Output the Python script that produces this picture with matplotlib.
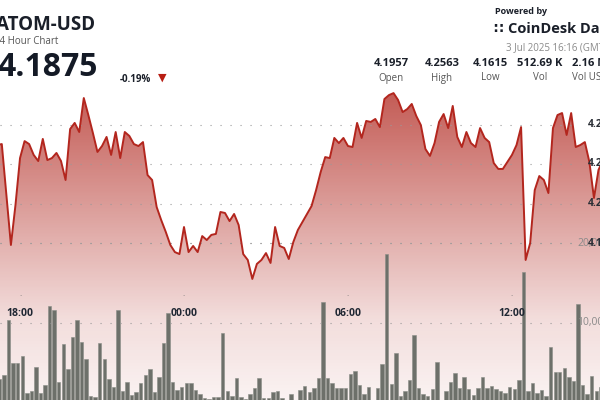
import numpy as np
import pandas as pd
import matplotlib
matplotlib.use("Agg")
import matplotlib.pyplot as plt
import matplotlib.dates as mdates

plt.rcParams['font.family'] = ['Open Sans', 'DejaVu Sans']

# 10-minute candles, ATOM-USD
times = pd.date_range("2025-07-02 17:10", periods=134, freq="10min")
prices = [4.2296, 4.2301, 4.2043, 4.1790, 4.1992, 4.2230, 4.2316, 4.2301, 4.2246, 4.2215,
          4.2327, 4.2220, 4.2230, 4.2256, 4.2215, 4.2119, 4.2377, 4.2408, 4.2362, 4.2534,
          4.2448, 4.2357, 4.2261, 4.2291, 4.2337, 4.2246, 4.2362, 4.2230, 4.2362, 4.2342,
          4.2301, 4.2291, 4.2311, 4.2144, 4.2119, 4.1982, 4.1916, 4.1856, 4.1790, 4.1754,
          4.1744, 4.1881, 4.1754, 4.1785, 4.1754, 4.1835, 4.1815, 4.1841, 4.1846, 4.1957,
          4.1952, 4.1911, 4.1947, 4.1891, 4.1744, 4.1714, 4.1618, 4.1694, 4.1714, 4.1749,
          4.1699, 4.1881, 4.1785, 4.1775, 4.1719, 4.1805, 4.1866, 4.1906, 4.1947, 4.1987,
          4.2068, 4.2159, 4.2235, 4.2230, 4.2332, 4.2306, 4.2332, 4.2291, 4.2286, 4.2408,
          4.2332, 4.2418, 4.2413, 4.2428, 4.2387, 4.2529, 4.2549, 4.2559, 4.2524, 4.2463,
          4.2478, 4.2504, 4.2443, 4.2397, 4.2276, 4.2241, 4.2306, 4.2413, 4.2453, 4.2382,
          4.2494, 4.2337, 4.2286, 4.2362, 4.2306, 4.2286, 4.2382, 4.2332, 4.2311, 4.2205,
          4.2175, 4.2175, 4.2210, 4.2246, 4.2296, 4.2387, 4.1714, 4.1800, 4.2068, 4.2139,
          4.2119, 4.2053, 4.2382, 4.2448, 4.2458, 4.2347, 4.2458, 4.2286, 4.2296, 4.2311,
          4.2210, 4.2028, 4.2170, 4.2220]
volumes = [2000, 3000, 3500, 10375, 5000, 5000, 5875, 1250, 1500, 4500,
           1250, 2250, 12125, 11625, 2625, 7375, 4250, 8250, 10375, 7625,
           5500, 875, 750, 7500, 5500, 3000, 2000, 11625, 1500, 2625,
           1000, 1375, 2500, 3500, 4250, 1375, 3250, 7500, 11250, 2625,
           1625, 2000, 2500, 2500, 1625, 1125, 625, 500, 750, 750,
           8750, 1500, 875, 3125, 750, 500, 1125, 1875, 3125, 625,
           625, 1375, 1500, 625, 375, 1125, 375, 1625, 2125, 1375,
           1875, 3125, 12625, 3125, 2500, 1875, 1875, 1875, 3625, 4000,
           2250, 1125, 2000, 375, 1875, 4875, 18625, 2375, 6250, 875,
           1500, 2875, 8500, 1875, 1125, 875, 1750, 5125, 375, 1500,
           2625, 3750, 1875, 3250, 1750, 1000, 1875, 3250, 1875, 2125,
           1750, 1500, 1250, 2000, 1750, 2875, 16375, 1500, 2500, 1250,
           1625, 875, 7000, 3875, 3875, 4375, 3250, 2750, 12375, 2250,
           1125, 3375, 1500, 2000]

price_ticks = [4.18, 4.20, 4.22, 4.24]
vol_ticks = [10000, 20000]
time_ticks = ["2025-07-02 18:00", "2025-07-03 00:00", "2025-07-03 06:00", "2025-07-03 12:00"]
time_labels = ["18:00", "00:00", "06:00", "12:00"]
stats_values = ["4.1957", "4.2563", "4.1615", "512.69 K", "2.16 M"]
stats_names = ["Open", "High", "Low", "Vol", "Vol USD"]

W, H = 600, 400
fig = plt.figure(figsize=(6, 4), dpi=100)
fig.patch.set_facecolor("white")

x = mdates.date2num(times)
midnight = mdates.date2num(pd.Timestamp("2025-07-03 00:00"))
px_per_day = 27.33 * 24
xlim = (midnight - 184 / px_per_day, midnight + (W - 184) / px_per_day)
plim = (4.18 - 157 / 39.5 * 0.02, 4.18 + 243 / 39.5 * 0.02)
vlim = (375, 403 * 125)

rect = [0, 0, 1, 1]
ax = fig.add_axes(rect, label="fill")
ax_v = fig.add_axes(rect, label="vol")
ax_l = fig.add_axes(rect, label="line")
for a in (ax, ax_v, ax_l):
    a.set_xlim(*xlim)
    a.axis("off")
    a.patch.set_alpha(0)
ax.set_ylim(*plim)
ax_l.set_ylim(*plim)
ax_v.set_ylim(*vlim)

# gradient fill under the price line
poly = ax.fill_between(x, prices, plim[0], facecolor="none", edgecolor="none")
n = 256
ypix = np.linspace(400, 0, n)
alpha = np.interp(ypix, [0, 90, 200, 320, 400], [0.85, 0.78, 0.48, 0.16, 0.06])
img = np.zeros((n, 1, 4))
img[:, 0, 0] = 0.70
img[:, 0, 1] = 0.17
img[:, 0, 2] = 0.14
img[:, 0, 3] = alpha
im = ax.imshow(img, extent=[xlim[0], xlim[1], plim[0], plim[1]], origin="lower",
               aspect="auto", interpolation="bilinear")
im.set_clip_path(poly.get_paths()[0], transform=ax.transData)

# dotted grid
for p in price_ticks:
    ax.plot([xlim[0], xlim[0] + 578 / px_per_day], [p, p], color="#9a9a9a", lw=0.8,
            linestyle=(0, (1, 8)))
for v in vol_ticks:
    ax_v.plot([xlim[0], xlim[0] + 572 / px_per_day], [v, v], color="#9a9a9a", lw=0.8,
              linestyle=(0, (1, 8)))

# volume bars
ax_v.bar(x - 5 / 1440, volumes, width=7.5 / 1440, color="#6d706a", edgecolor="#8a8d87",
         linewidth=0.4)

# price line
ax_l.plot(x, prices, color="#b3261e", lw=1.4)

def px(xp, yp):
    return xp / W, 1 - yp / H

# right axis labels
for p in price_ticks:
    yp = 243 - (p - 4.18) / 0.02 * 39.5
    fig.text(*px(588, yp), f"{p:.2f}", fontsize=7.5, fontweight="bold", color="#2b2f36",
             va="center", ha="left", zorder=5)
for v in vol_ticks:
    yp = 403 - v / 125
    fig.text(*px(577, yp), f"{v:,}", fontsize=7.5, color="#8a8a8a", va="center", ha="left",
             zorder=4)

# time axis
for t, lab in zip(time_ticks, time_labels):
    xp = (mdates.date2num(pd.Timestamp(t)) - xlim[0]) * px_per_day
    fig.text(*px(xp, 298), ".", fontsize=6, color="#777777", ha="center", va="bottom")
    fig.text(*px(xp, 313), lab, fontsize=7.5, fontweight="bold", color="#1f2733",
             ha="center", va="center")

# header
fig.text(*px(-4, 25), "ATOM-USD", fontsize=13.5, fontweight="bold", color="#1a1f29",
         va="center", ha="left")
fig.text(*px(-6, 41), "24 Hour Chart", fontsize=7, color="#555555", va="center", ha="left")
fig.text(*px(-3, 67), "4.1875", fontsize=23, fontweight="bold", color="#141a26",
         va="center", ha="left")
fig.text(*px(120, 79), "-0.19%", fontsize=7, fontweight="bold", color="#1a1f29",
         va="center", ha="left")
fig.text(*px(158, 78), "\u25BC", fontsize=8, color="#b81d13", va="center", ha="left",
         family="DejaVu Sans")

fig.text(*px(495, 11), "Powered by", fontsize=6.5, fontweight="bold", color="#1a1f29",
         va="center", ha="left")
fig.text(*px(493, 29), "\u2237", fontsize=10, fontweight="bold", color="#1a1f29",
         va="center", ha="left", family="DejaVu Sans")
fig.text(*px(508, 29), "CoinDesk Data", fontsize=10.5, fontweight="bold", color="#1a1f29",
         va="center", ha="left")
fig.text(*px(506, 48), "3 Jul 2025 16:16 (GMT)", fontsize=7, color="#8a8a8a",
         va="center", ha="left")

stat_x = [391, 442, 490, 540, 590]
for xs, val, name in zip(stat_x, stats_values, stats_names):
    fig.text(*px(xs, 63), val, fontsize=8, fontweight="bold", color="#1a1f29",
             va="center", ha="center")
    fig.text(*px(xs, 78), name, fontsize=7, color="#555555", va="center", ha="center")

fig.savefig("out.png", dpi=100)
